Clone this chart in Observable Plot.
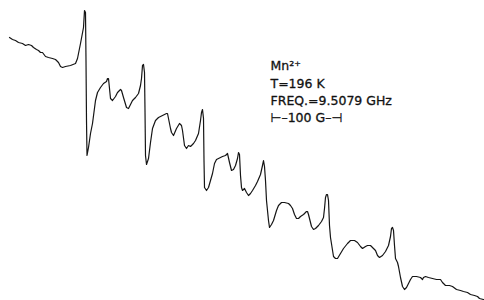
<!DOCTYPE html>
<html>
<head>
<meta charset="utf-8">
<script src="https://cdn.jsdelivr.net/npm/d3@7"></script>
<script src="https://cdn.jsdelivr.net/npm/@observablehq/plot@0.6"></script>
<style>
  html, body { margin: 0; padding: 0; background: #fff; }
  #chart svg { display: block; }
</style>
</head>
<body>
<div id="chart"></div>
<script>
// Field position along the sweep (arbitrary units)
const field = [9,12,15,18,22,25,28,31,33,36,38,40,42,45,48,52,55,58,60,62,65,70,75,77,80,83,84,85,85.5,86,86.5,88,90,92,95,97,100,103,106,107,108,110,112,115,117,120,121,123,126,128,130,132,135,138,140,141,142,143,144,144.5,145,146,148,150,152,155,158,162,166,167,168,170,171,173,176,179,181,182,184,186,188,190,193,195,198,200,201,202,203,203.5,204,206,208,210,212,214,216,218,222,225,227,229,231,233,235,237,238,239,240,241,242,244,246,248,250,252,255,257,260,262,263,264,265,266,268,269,271,273,276,278,281,284,288,290,292,294,296,298,300,303,306,307,308,310,311,313,315,318,321,323,324,325,326,327,328,329,330,333,335,337,340,343,347,350,354,357,360,362,365,367,370,373,375,377,379,382,385,388,390,391,392,393,394,395,397,398,400,402,404,406,408,410,412,416,420,422,423,425,428,432,436,440,442,445,449,452,456,460,463,467,470,474,477,479,483];
// First-derivative EPR signal (arbitrary units)
const signal = [263,261,260,258,257,255,256,255,253,251,250,248,248,244,243,242,241,238,234,233,234,235,237,242,257,273,290,288,240,180,145,153,167,177,200,208,213,217,219,222,222,202,200,204,208,211,210,203,193,192,196,200,203,207,215,222,235,236,228,190,145,136,142,158,172,180,183,185,187,187,182,172,168,165,172,177,175,170,155,152,155,154,157,160,167,180,188,191,182,140,113,110,113,120,127,137,141,142,144,145,147,138,130,131,135,142,148,146,125,113,110,112,108,105,107,110,115,119,126,135,140,134,120,100,80,73,76,80,90,95,98,98,97,95,92,86,82,82,84,86,89,89,86,78,74,71,72,75,79,83,92,103,106,106,100,75,63,44,42,42,47,52,57,60,60,58,54,52,54,55,55,52,50,45,43,45,49,55,64,72,73,70,55,42,38,34,23,14,11,13,17,21,24,24,23,21,23,24,23,22,21,21,18,15,15,14,11,10,9,8,6,5,4,2,1];

// Annotation block
const labels = ["Mn²⁺", "T=196 K", "FREQ.=9.5079 GHz", "⊢–100 G–⊣"];
const labelField = [270, 270, 270, 270];
const labelSignal = [235, 217, 200, 183];

const trace = field.map((f, i) => ({field: f, signal: signal[i]}));
const notes = labels.map((t, i) => ({text: t, field: labelField[i], signal: labelSignal[i]}));

const chart = Plot.plot({
  width: 484,
  height: 300,
  margin: 0,
  x: {domain: [0, 484], axis: null},
  y: {domain: [0, 300], axis: null},
  style: {background: "#fff"},
  marks: [
    Plot.line(trace, {x: "field", y: "signal", stroke: "#151515", strokeWidth: 1.2, curve: "linear"}),
    Plot.text(notes, {x: "field", y: "signal", text: "text", textAnchor: "start", lineAnchor: "middle",
      fontSize: 12.5, fill: "#111", stroke: "#111", strokeWidth: 0.3,
      fontFamily: "DejaVu Sans, sans-serif"})
  ]
});
document.getElementById("chart").appendChild(chart);
</script>
</body>
</html>
